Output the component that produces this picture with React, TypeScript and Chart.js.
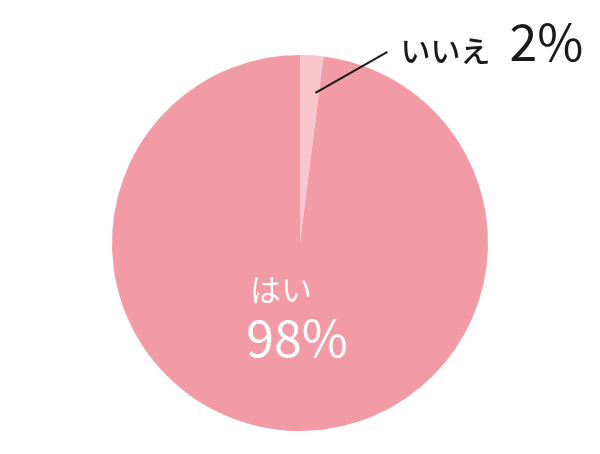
import React, { useEffect, useRef } from "react";
import { Chart, registerables, Plugin } from "chart.js";

Chart.register(...registerables);

const labels = ["いいえ", "はい"];
const values = [2, 98];
const colors = ["#F8C6CB", "#F29BA5"];

const FONT = '"Noto Sans CJK JP", "Noto Sans", sans-serif';

// labels drawn on top of the pie
const labelPlugin: Plugin<"pie"> = {
  id: "pieLabels",
  afterDraw(chart) {
    const ctx = chart.ctx;
    const arcs = chart.getDatasetMeta(0).data as any[];
    if (!arcs.length) return;
    const { x: cx, y: cy, outerRadius: r } = arcs[0].getProps(["x", "y", "outerRadius"], true);

    ctx.save();
    ctx.textBaseline = "alphabetic";

    // small slice: leader line + label outside
    const a0 = arcs[0].getProps(["startAngle", "endAngle"], true);
    const mid = (a0.startAngle + a0.endAngle) / 2;
    const sx = cx + Math.cos(mid) * r * 0.8 + 6;
    const sy = cy + Math.sin(mid) * r * 0.8;
    ctx.strokeStyle = "#1a1a1a";
    ctx.lineWidth = 2;
    ctx.beginPath();
    ctx.moveTo(sx, sy);
    ctx.lineTo(sx + 72, sy - 41);
    ctx.stroke();

    ctx.fillStyle = "#1a1a1a";
    ctx.textAlign = "left";
    ctx.font = `500 30px ${FONT}`;
    ctx.fillText(labels[0], sx + 85, sy - 31);
    ctx.font = `400 50px ${FONT}`;
    ctx.fillText(`${values[0]}%`, sx + 194, sy - 32);

    // big slice: label inside
    ctx.fillStyle = "#ffffff";
    ctx.textAlign = "center";
    ctx.font = `400 31px ${FONT}`;
    ctx.fillText(labels[1], cx - 19, cy + 58);
    ctx.font = `400 50px ${FONT}`;
    ctx.fillText(`${values[1]}%`, cx - 3, cy + 114);

    ctx.restore();
  },
};

const App = () => {
  const canvasRef = useRef<HTMLCanvasElement | null>(null);
  const chartRef = useRef<Chart | null>(null);

  useEffect(() => {
    const ctx = canvasRef.current?.getContext("2d");
    if (!ctx) return;
    if (chartRef.current) chartRef.current.destroy();

    chartRef.current = new Chart(ctx, {
      type: "pie",
      data: {
        labels,
        datasets: [
          {
            data: values,
            backgroundColor: colors,
            borderWidth: 0,
          },
        ],
      },
      options: {
        responsive: true,
        maintainAspectRatio: false,
        animation: false,
        layout: { padding: { top: 55, bottom: 23, left: 0, right: 0 } },
        plugins: {
          legend: { display: false },
          tooltip: { enabled: false },
        },
      },
      plugins: [labelPlugin],
    });

    return () => {
      chartRef.current?.destroy();
      chartRef.current = null;
    };
  }, []);

  return (
    <div style={{ width: 600, height: 454, margin: -8, background: "#fff" }}>
      <canvas ref={canvasRef} />
    </div>
  );
};

export default App;
